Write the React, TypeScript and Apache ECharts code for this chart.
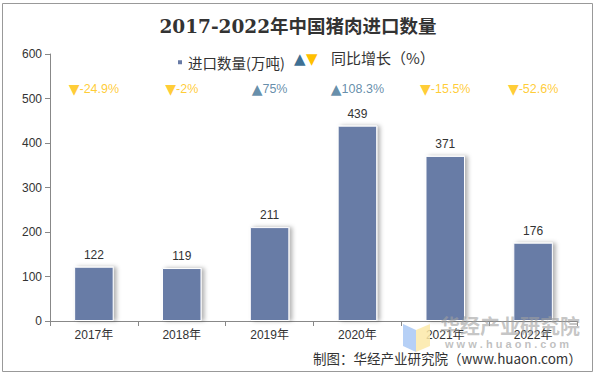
import React, { useEffect, useRef } from "react";
import * as echarts from "echarts";

const years = ["2017年", "2018年", "2019年", "2020年", "2021年", "2022年"];
const imports = [122, 119, 211, 439, 371, 176];
const growth = [-24.9, -2, 75, 108.3, -15.5, -52.6];
const yTicks = { min: 0, max: 600, interval: 100 };

const BAR = "#687ba6";
const UP = "#3e7094";
const DOWN = "#ffc000";
const FONT = "Liberation Sans, Arial, Noto Sans CJK SC, sans-serif";
const CJK = "Noto Sans CJK SC, sans-serif";

export default function App() {
  const ref = useRef<HTMLDivElement>(null);
  useEffect(() => {
    const chart = echarts.init(ref.current!, null, { renderer: "svg" });
    chart.setOption({
      animation: false,
      backgroundColor: "#fff",
      title: {
        text: "2017-2022年中国猪肉进口数量",
        left: "center",
        top: 12,
        textStyle: { fontFamily: "DejaVu Serif, Noto Sans CJK SC, serif", fontWeight: "bold", fontSize: 18.5, color: "#333" },
      },
      legend: {
        data: ["进口数量(万吨)"],
        left: 171,
        top: 50,
        icon: "rect",
        itemWidth: 6,
        itemHeight: 6,
        itemGap: 4,
        textStyle: { fontFamily: CJK, fontSize: 14.5, color: "#333" },
      },
      grid: { left: 50, right: 19, top: 54, bottom: 55 },
      xAxis: {
        type: "category",
        data: years,
        axisLine: { lineStyle: { color: "#888" } },
        axisTick: { show: true, alignWithLabel: false, lineStyle: { color: "#888" } },
        axisLabel: { color: "#333", fontSize: 12, fontFamily: FONT, margin: 8 },
      },
      yAxis: [
        {
          type: "value",
          ...yTicks,
          axisLine: { show: true, lineStyle: { color: "#888" } },
          axisTick: { show: true, lineStyle: { color: "#888" } },
          splitLine: { show: false },
          axisLabel: { color: "#333", fontSize: 12, fontFamily: FONT },
        },
        { type: "value", min: 0, max: 1, show: false },
      ],
      series: [
        {
          name: "进口数量(万吨)",
          type: "bar",
          data: imports,
          barWidth: "45%",
          itemStyle: {
            color: BAR,
            borderColor: "#fff",
            borderWidth: 1,
            shadowColor: "rgba(0,0,0,0.3)",
            shadowBlur: 4,
            shadowOffsetX: 3,
            shadowOffsetY: 0,
          },
          label: { show: true, position: "top", color: "#333", fontSize: 12, fontFamily: FONT, distance: 6 },
        },
        {
          type: "scatter",
          yAxisIndex: 1,
          symbolSize: 0,
          data: growth.map((g, i) => [years[i], 0.87]),
          label: {
            show: true,
            position: "inside",
            formatter: (p: any) => {
              const g = growth[p.dataIndex];
              return g >= 0 ? `{u|▲}{ut|${g}%}` : `{d|▼}{dt|${g}%}`;
            },
            rich: {
              u: { color: UP, fontSize: 14, fontFamily: "DejaVu Sans" },
              ut: { color: UP, fontSize: 12.5, fontFamily: FONT },
              d: { color: DOWN, fontSize: 14, fontFamily: "DejaVu Sans" },
              dt: { color: DOWN, fontSize: 12.5, fontFamily: FONT },
            },
          },
        },
      ],
      graphic: [
        { type: "rect", shape: { x: 2.5, y: 3.5, width: 590, height: 368 }, style: { fill: "none", stroke: "#999", lineWidth: 1 }, silent: true },
        { type: "text", x: 294, y: 51, style: { text: "▲", fill: UP, fontSize: 15, fontFamily: "DejaVu Sans" } },
        { type: "text", x: 306, y: 51, style: { text: "▼", fill: DOWN, fontSize: 15, fontFamily: "DejaVu Sans" } },
        { type: "text", x: 331, y: 50, style: { text: "同比增长（%）", fill: "#333", fontSize: 15, fontFamily: CJK } },
        { type: "polygon", shape: { points: [[403, 324], [416, 330], [416, 352], [403, 346]] }, style: { fill: "#a9c8f5", opacity: 0.85 }, z: 10 },
        { type: "polygon", shape: { points: [[416, 330], [430, 324], [430, 346], [416, 352]] }, style: { fill: "#fbe9a8", opacity: 0.85 }, z: 10 },
        { type: "text", x: 440, y: 315, style: { text: "华经产业研究院", fill: "rgba(160,160,160,0.6)", fontSize: 20, fontWeight: "bold", fontFamily: CJK }, z: 10 },
        { type: "text", x: 445, y: 338, style: { text: "w w w . h u a o n . c o m", fill: "rgba(150,150,150,0.6)", fontSize: 11, fontWeight: "bold", fontFamily: FONT }, z: 10 },
        { type: "text", x: 313, y: 351, style: { text: "制图：华经产业研究院（www.huaon.com）", fill: "#333", fontSize: 13.5, fontFamily: CJK }, z: 10 },
      ],
    });
    return () => chart.dispose();
  }, []);
  return <div ref={ref} style={{ position: "fixed", left: 0, top: 0, width: 596, height: 376 }} />;
}
